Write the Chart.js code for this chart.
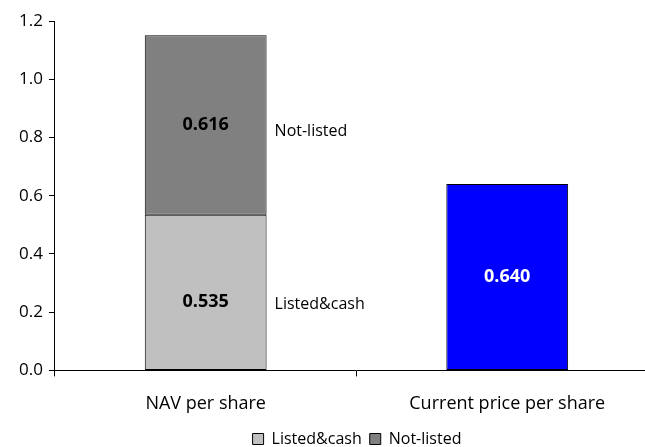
<!DOCTYPE html>
<html>
<head>
<meta charset="utf-8">
<script src="https://cdn.jsdelivr.net/npm/chart.js@4/dist/chart.umd.min.js"></script>
<style>
html,body{margin:0;padding:0;background:#fff;overflow:hidden;width:645px;height:447px;}
#wrap{width:714px;height:447px;}
</style>
</head>
<body>
<div id="wrap"><canvas id="c" width="714" height="447"></canvas></div>
<script>
const categories = ["NAV per share", "Current price per share"];
const listedCash = [0.535, null];
const notListed = [0.616, null];
const currentPrice = [null, 0.640];
const seriesNames = ["Listed&cash", "Not-listed", "Current price"];
const yTicks = [0, 0.2, 0.4, 0.6, 0.8, 1.0, 1.2];

const FONT = "'Open Sans', 'DejaVu Sans', sans-serif";

const labelPlugin = {
  id: 'labels',
  afterDatasetsDraw(chart) {
    const ctx = chart.ctx;
    ctx.save();
    chart.data.datasets.forEach((ds, di) => {
      const meta = chart.getDatasetMeta(di);
      meta.data.forEach((el, i) => {
        const v = ds.data[i];
        if (v === null || v === undefined) return;
        const mid = (el.y + el.base) / 2 + (di === 0 ? 10 : 0);
        ctx.font = "bold 18px " + FONT;
        ctx.textAlign = 'center';
        ctx.textBaseline = 'middle';
        ctx.fillStyle = di === 2 ? '#ffffff' : '#000000';
        ctx.fillText(v.toFixed(3), el.x, mid);
        if (di < 2) {
          ctx.font = "16px " + FONT;
          ctx.textAlign = 'left';
          ctx.fillStyle = '#000';
          ctx.fillText(seriesNames[di], el.x + el.width / 2 + 8, mid + (di === 1 ? 6 : 2));
        }
      });
    });
    ctx.restore();
  }
};

const legendShift = {
  id: 'legendShift',
  afterLayout(chart) {
    const l = chart.legend;
    if (!l) return;
    const d = chart.width / 2 - (l.left + l.right) / 2;
    l.left += d; l.right += d;
  }
};

new Chart(document.getElementById('c'), {
  type: 'bar',
  data: {
    labels: categories,
    datasets: [
      { label: seriesNames[0], data: listedCash, backgroundColor: '#C0C0C0', borderColor: '#000', borderWidth: 1, borderSkipped: false },
      { label: seriesNames[1], data: notListed, backgroundColor: '#808080', borderColor: '#000', borderWidth: 1, borderSkipped: false },
      { label: seriesNames[2], data: currentPrice, backgroundColor: '#0000FF', borderColor: '#000', borderWidth: 1, borderSkipped: false }
    ]
  },
  options: {
    responsive: false,
    devicePixelRatio: 1,
    animation: false,
    layout: { padding: { top: 21, right: 56, left: 13, bottom: -10 } },
    datasets: { bar: { barPercentage: 0.404, categoryPercentage: 1.0 } },
    plugins: {
      legend: {
        position: 'bottom',
        labels: {
          boxWidth: 11, boxHeight: 11, padding: 8, color: '#000',
          font: { family: FONT, size: 16 },
          filter: item => item.datasetIndex < 2
        }
      },
      tooltip: { enabled: false }
    },
    scales: {
      x: {
        stacked: true,
        offset: true,
        afterFit: s => { s.height -= 9; },
        grid: { display: true, drawOnChartArea: false, offset: true, color: '#000', tickLength: 6, tickColor: '#000' },
        border: { color: '#000', width: 1 },
        ticks: { color: '#000', font: { family: FONT, size: 18 }, padding: 17 }
      },
      y: {
        stacked: true,
        min: 0, max: 1.2,
        afterBuildTicks: ax => { ax.ticks = yTicks.map(v => ({ value: v })); },
        grid: { display: true, drawOnChartArea: false, color: '#000', tickLength: 6, tickColor: '#000' },
        border: { color: '#000', width: 1 },
        ticks: { color: '#000', font: { family: FONT, size: 17 }, padding: 6, callback: v => v.toFixed(1) }
      }
    }
  },
  plugins: [labelPlugin, legendShift]
});
</script>
</body>
</html>
